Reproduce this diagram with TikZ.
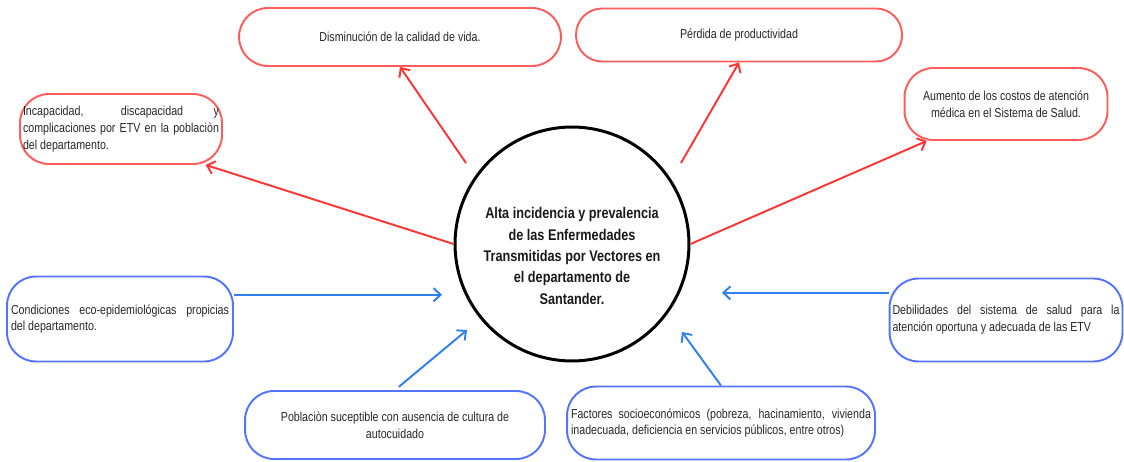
\documentclass[tikz,border=0pt]{standalone}
\usepackage{fontspec}
\setmainfont{Liberation Sans}[FakeStretch=0.82]
\usetikzlibrary{calc, arrows.meta}

\definecolor{rojo}{HTML}{FF5C5C}
\definecolor{rojoflecha}{HTML}{FF3535}
\definecolor{azul}{HTML}{5473FF}
\definecolor{azulflecha}{HTML}{2F7FEF}

\begin{document}
\begin{tikzpicture}[x=0.02cm, y=-0.02cm, thick,
  caja/.style={draw, line width=1.1pt, rounded corners=0.58cm, inner sep=0pt,
    text=black!85, font=\fontsize{7.4}{9.6}\selectfont},
  efecto/.style={caja, draw=rojo},
  causa/.style={caja, draw=azul},
  flecharoja/.style={draw=rojoflecha, line width=1.1pt, -{Straight Barb[length=4pt,width=7.5pt]}},
  flechaazul/.style={draw=azulflecha, line width=1.1pt, -{Straight Barb[length=4pt,width=7.5pt]}}]
  \useasboundingbox (0,0) rectangle (1124,462);

  % 中心问题
  \node[circle, draw, line width=1.7pt, minimum size=4.68cm, inner sep=0pt] (centro) at (572,244) {};
  \node[align=center, text=black!90, font=\bfseries\fontsize{8.8}{12.2}\selectfont] (centrotxt) at (572,256)
    {Alta incidencia y prevalencia\\ de las Enfermedades\\ Transmitidas por Vectores en\\ el departamento de\\ Santander.};

  % 效果（红框）
  \node[efecto, minimum width=6.44cm, minimum height=1.16cm] (calidad) at (400,37)
    {Disminución de la calidad de vida.};
  \node[efecto, minimum width=6.52cm, minimum height=1.06cm, rounded corners=0.52cm] (perdida) at (739,35)
    {Pérdida de productividad};
  \node[efecto, minimum width=4.04cm, minimum height=1.4cm, text width=3.92cm, align=justify] (incap) at (121,129)
    {Incapacidad, discapacidad y\linebreak complicaciones por ETV en la poblaciòn\linebreak del departamento.};
  \node[efecto, minimum width=4.06cm, minimum height=1.44cm, align=center] (costos) at (1006,104)
    {Aumento de los costos de atención\\ médica en el Sistema de Salud.};

  % 原因（蓝框）
  \node[causa, minimum width=4.52cm, minimum height=1.7cm, text width=4.36cm, align=justify] (condic) at (120,319)
    {Condiciones eco-epidemiológicas propicias\linebreak del departamento.};
  \node[causa, minimum width=6cm, minimum height=1.36cm, align=center] (poblac) at (395,425)
    {Poblaciòn suceptible con ausencia de cultura de\\ autocuidado};
  \node[causa, minimum width=6.16cm, minimum height=1.46cm, text width=6cm, align=justify] (factores) at (721,423)
    {Factores socioeconómicos (pobreza, hacinamiento, vivienda\linebreak inadecuada, deficiencia en servicios públicos, entre otros)};
  \node[causa, minimum width=4.66cm, minimum height=1.66cm, text width=4.54cm, align=justify] (debil) at (1006,320)
    {Debilidades del sistema de salud para la\linebreak atención oportuna y adecuada de las ETV};

  % 箭头端点
  \coordinate (sA) at (466,163);
  \coordinate (sB) at (681,163);
  \coordinate (tE) at (442,292);
  \coordinate (tF) at (467,330);
  \coordinate (tG) at (682,332);
  \coordinate (tH) at (722,292);

  % 红色箭头
  \draw[flecharoja] (sA) -- (calidad.south);
  \draw[flecharoja] (sB) -- (perdida.south);
  \draw[flecharoja] (centro.west) -- (incap.-23);
  \draw[flecharoja] (centro.east) -- (costos.-155);

  % 蓝色箭头
  \draw[flechaazul] (condic.12) -- (condic.12 -| tE);
  \draw[flechaazul, shorten <=0.1cm] (poblac.north) -- (tF);
  \draw[flechaazul] (factores.north) -- (tG);
  \draw[flechaazul] (debil.167) -- (debil.167 -| tH);
\end{tikzpicture}
\end{document}
